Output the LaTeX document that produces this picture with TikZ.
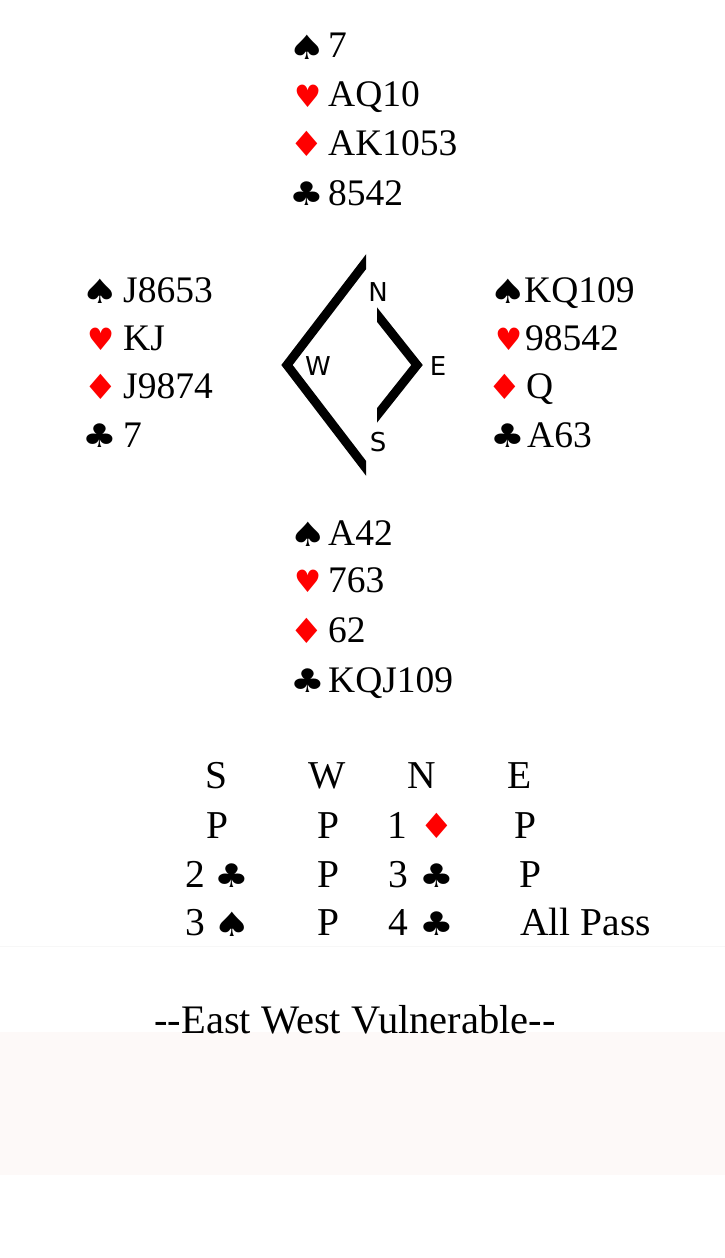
\documentclass[tikz,border=0pt]{standalone}
\usepackage{fontspec}
\setmainfont{Liberation Serif}
\newfontfamily\suitfont{DejaVu Sans}
\newfontfamily\compfont{DejaVu Sans}
\definecolor{suitred}{HTML}{FF0000}
\definecolor{bandpink}{HTML}{FDF9F8}
\definecolor{faintline}{HTML}{F7F7F7}
\newcommand{\SPD}{\scalebox{1.35}[1.08]{\fontsize{31}{33}\selectfont ♠}}
\newcommand{\HRT}{\scalebox{1.08}[1.1]{\fontsize{28}{30}\selectfont ♥}}
\newcommand{\DMD}{\scalebox{1.25}[1.12]{\fontsize{31}{33}\selectfont ♦}}
\newcommand{\CLB}{\scalebox{1.25}[1.05]{\fontsize{31}{33}\selectfont ♣}}
\tikzset{
  cardtxt/.style={anchor=base west, inner sep=0, font=\fontsize{37.5}{40}\selectfont},
  suitsym/.style={anchor=center, inner sep=0, font=\suitfont},
  redsuit/.style={suitsym, text=suitred},
  bidtxt/.style={anchor=base, inner sep=0, font=\fontsize{39.5}{42}\selectfont},
  dirlbl/.style={inner sep=0, font=\compfont\fontsize{26}{28}\selectfont},
  compassline/.style={line width=9pt, line join=miter}
}
\begin{document}
\begin{tikzpicture}[x=1pt,y=-1pt]
\useasboundingbox (0,0) rectangle (725,1258);
\fill[white] (0,0) rectangle (725,1258);
\fill[bandpink] (0,1032) rectangle (725,1175);
\draw[faintline, line width=1pt] (0,946) -- (725,946);

% North hand
\node[suitsym] (nS) at (307,47) {\SPD};
\node[cardtxt] (nSt) at (328,57) {7};
\node[redsuit] (nH) at (308,96) {\HRT};
\node[cardtxt] (nHt) at (328,106) {AQ10};
\node[redsuit] (nD) at (307,144) {\DMD};
\node[cardtxt] (nDt) at (328,155) {AK1053};
\node[suitsym] (nC) at (307,194) {\CLB};
\node[cardtxt] (nCt) at (328,205) {8542};

% West hand
\node[suitsym] (wS) at (100,291) {\SPD};
\node[cardtxt] (wSt) at (123,302) {J8653};
\node[redsuit] (wH) at (101,339) {\HRT};
\node[cardtxt] (wHt) at (123,350) {KJ};
\node[redsuit] (wD) at (101,387) {\DMD};
\node[cardtxt] (wDt) at (123,398) {J9874};
\node[suitsym] (wC) at (100,436) {\CLB};
\node[cardtxt] (wCt) at (123,447) {7};

% East hand
\node[suitsym] (eS) at (508,291) {\SPD};
\node[cardtxt] (eSt) at (524,302) {KQ109};
\node[redsuit] (eH) at (509,339) {\HRT};
\node[cardtxt] (eHt) at (525,350) {98542};
\node[redsuit] (eD) at (505,387) {\DMD};
\node[cardtxt] (eDt) at (526,398) {Q};
\node[suitsym] (eC) at (508,436) {\CLB};
\node[cardtxt] (eCt) at (527,447) {A63};

% South hand
\node[suitsym] (sS) at (308,534) {\SPD};
\node[cardtxt] (sSt) at (328,545) {A42};
\node[redsuit] (sH) at (308,581) {\HRT};
\node[cardtxt] (sHt) at (328,592) {763};
\node[redsuit] (sD) at (307,631) {\DMD};
\node[cardtxt] (sDt) at (328,642) {62};
\node[suitsym] (sC) at (308,681) {\CLB};
\node[cardtxt] (sCt) at (328,692) {KQJ109};

% Compass
\begin{scope}
  \clip (260,240) rectangle (366,490);
  \draw[compassline] (375,250) -- (287,365) -- (375,480);
\end{scope}
\begin{scope}
  \clip (377,300) rectangle (440,430);
  \draw[compassline] (367,302) -- (417,365) -- (367,428);
\end{scope}
\node[dirlbl] (cN) at (378,292) {N};
\node[dirlbl] (cW) at (318,366) {W};
\node[dirlbl] (cE) at (438,366) {E};
\node[dirlbl] (cS) at (378,442) {S};

% Bidding header
\node[bidtxt] (hS) at (216,788) {S};
\node[bidtxt] (hW) at (327,788) {W};
\node[bidtxt] (hN) at (422,788) {N};
\node[bidtxt] (hE) at (520,788) {E};
% Row 1
\node[bidtxt] (r1a) at (217,838) {P};
\node[bidtxt] (r1b) at (328,838) {P};
\node[bidtxt] (r1c) at (397,838) {1};
\node[redsuit] (r1cs) at (437,826) {\DMD};
\node[bidtxt] (r1d) at (525,838) {P};
% Row 2
\node[bidtxt] (r2a) at (195,887) {2};
\node[suitsym] (r2as) at (232,876) {\CLB};
\node[bidtxt] (r2b) at (328,887) {P};
\node[bidtxt] (r2c) at (398,887) {3};
\node[suitsym] (r2cs) at (437,876) {\CLB};
\node[bidtxt] (r2d) at (530,887) {P};
% Row 3
\node[bidtxt] (r3a) at (195,935) {3};
\node[suitsym] (r3as) at (232,924) {\SPD};
\node[bidtxt] (r3b) at (328,935) {P};
\node[bidtxt] (r3c) at (398,935) {4};
\node[suitsym] (r3cs) at (437,924) {\CLB};
\node[bidtxt, anchor=base west] (r3d) at (520,935) {All Pass};

% Vulnerability
\node[anchor=base, inner sep=0, font=\fontsize{40.5}{43}\selectfont] (vul) at (355,1033) {-{}-East West Vulnerable-{}-};
\end{tikzpicture}
\end{document}
